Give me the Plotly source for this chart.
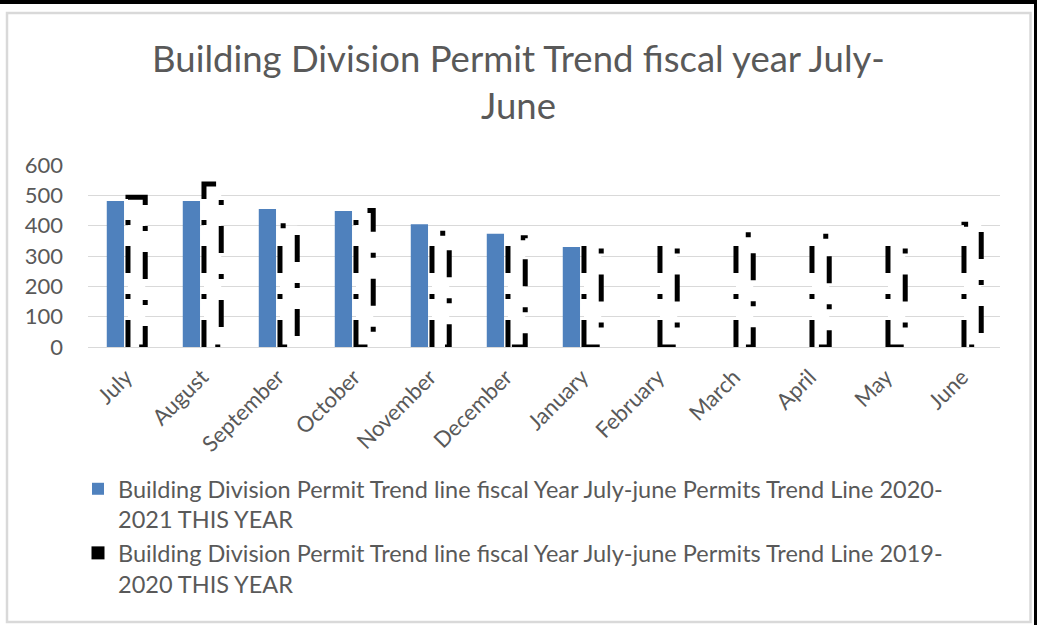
import plotly.graph_objects as go

# ---------------- data ----------------
months = ["July", "August", "September", "October", "November", "December",
          "January", "February", "March", "April", "May", "June"]
permits_2020_2021 = [481, 481, 455, 448, 405, 373, 330]
permits_2019_2020 = [494, 537, 400, 450, 375, 360, 335, 335, 370, 365, 335, 405]
y_ticks = [0, 100, 200, 300, 400, 500, 600]

title_text = "Building Division Permit Trend fiscal year July-<br>June"
name_2021 = ("Building Division Permit Trend line fiscal Year July-june Permits Trend Line 2020-"
             "<br>2021 THIS YEAR")
name_2020 = ("Building Division Permit Trend line fiscal Year July-june Permits Trend Line 2019-"
             "<br>2020 THIS YEAR")

# ---------------- style ----------------
FONT = "Lato"
GREY_TXT = "#595959"
GRID = "#d9d9d9"
BLUE = "#4f81bd"

W, H = 1037, 625
PL, PR, PT, PB = 88, 1000, 165, 347          # plot area in pixels
BAR_W = 0.227
OFF_BLUE = -0.253
OFF_DASH = 0.026


def px_x(p):
    return (p - PL) / (PR - PL)


def px_y(p):
    return (PB - p) / (PB - PT)


xi = list(range(len(months)))

fig = go.Figure()

fig.add_trace(go.Bar(
    x=xi[:len(permits_2020_2021)], y=permits_2020_2021, name=name_2021,
    marker=dict(color=BLUE, line=dict(width=0)),
    width=BAR_W, offset=OFF_BLUE, showlegend=True,
))

fig.add_trace(go.Bar(
    x=xi, y=permits_2019_2020, name=name_2020,
    marker=dict(color="white", line=dict(width=0)),
    width=BAR_W, offset=OFF_DASH, showlegend=False,
))

# dashed outlines for the 2019-2020 bars
ox, oy = [], []
for i, v in zip(xi, permits_2019_2020):
    l = i + OFF_DASH
    r = l + BAR_W
    ox += [l, l, r, r, l, None]
    oy += [0, v, v, 0, 0, None]
fig.add_trace(go.Scatter(
    x=ox, y=oy, mode="lines", showlegend=False, hoverinfo="skip",
    line=dict(color="black", width=5, dash="27px,21px,5px,21px"),
    connectgaps=False,
))

# legend entry for the 2019-2020 series
fig.add_trace(go.Scatter(
    x=[None], y=[None], mode="markers", name=name_2020,
    marker=dict(symbol="square", color="black", size=13),
))

# frame shapes (paper coordinates derived from pixels)
shapes = [
    dict(type="rect", xref="paper", yref="paper",
         x0=px_x(7), x1=px_x(1030.5), y0=px_y(622), y1=px_y(13),
         line=dict(color=GRID, width=2.5), fillcolor="rgba(0,0,0,0)", layer="below"),
    dict(type="rect", xref="paper", yref="paper",
         x0=px_x(-5), x1=px_x(W + 5), y0=px_y(4), y1=px_y(-5),
         line=dict(width=0), fillcolor="black"),
    dict(type="rect", xref="paper", yref="paper",
         x0=px_x(1034), x1=px_x(W + 5), y0=px_y(H + 5), y1=px_y(-5),
         line=dict(width=0), fillcolor="black"),
]

fig.update_layout(
    width=W, height=H,
    margin=dict(l=PL, r=W - PR, t=PT, b=H - PB, autoexpand=False),
    paper_bgcolor="white", plot_bgcolor="white",
    font=dict(family=FONT, color=GREY_TXT),
    barmode="overlay",
    title=dict(text=title_text, x=0.5, xanchor="center", xref="container",
               y=1 - 72 / H, yanchor="middle", yref="container",
               font=dict(size=36.5, color=GREY_TXT, family=FONT)),
    xaxis=dict(
        range=[-0.5, len(months) - 0.5], tickmode="array", tickvals=xi, ticktext=months,
        tickangle=-45, showgrid=False, zeroline=False, showline=False,
        tickfont=dict(size=22, color=GREY_TXT, family=FONT), ticks="",
        ticklabelstandoff=12, fixedrange=True,
    ),
    yaxis=dict(
        range=[0, 600], tickmode="array", tickvals=y_ticks,
        showgrid=True, gridcolor=GRID, gridwidth=1,
        zeroline=True, zerolinecolor=GRID, zerolinewidth=1, showline=False,
        tickfont=dict(size=22, color=GREY_TXT, family=FONT), ticks="",
        ticklabelstandoff=24, fixedrange=True,
    ),
    legend=dict(
        x=px_x(78), xanchor="left", y=px_y(467), yanchor="top",
        font=dict(size=23.5, color=GREY_TXT, family=FONT),
        valign="top", traceorder="normal", bgcolor="rgba(0,0,0,0)",
        tracegroupgap=0,
    ),
    shapes=shapes,
    showlegend=True,
)

fig.write_html("out.html", config={"displayModeBar": False},
               post_script="document.body.style.margin='0';")
